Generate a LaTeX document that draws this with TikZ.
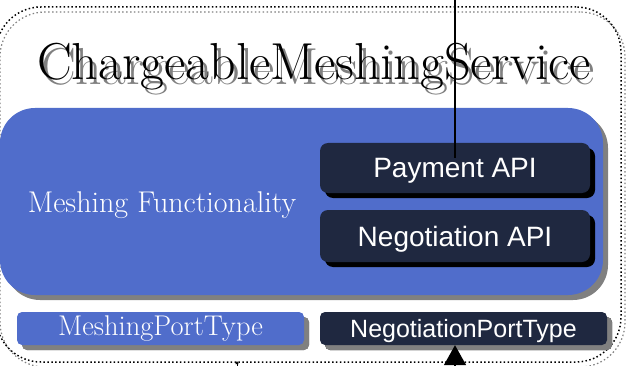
\documentclass[tikz,border=0pt]{standalone}
\usepackage{fontspec}
\newfontfamily\apifont{Liberation Sans}
\usetikzlibrary{arrows.meta,shadows}
\definecolor{meshblue}{RGB}{80,109,203}
\definecolor{apinavy}{RGB}{31,40,64}
\definecolor{shadowgray}{RGB}{128,128,128}
\tikzset{
  svcline/.style={draw, line width=1.5pt, dash pattern=on 1.5pt off 2.4pt, rounded corners=45pt, inner sep=0pt},
  bluebox/.style={fill=meshblue, rounded corners=#1, inner sep=0pt, text=white,
    drop shadow={shadow xshift=5pt, shadow yshift=-5pt, fill=shadowgray, opacity=1}},
  navybox/.style={fill=apinavy, rounded corners=#1, inner sep=0pt, text=white, font=\apifont\fontsize{28}{30}\selectfont,
    text height=20pt, text depth=0pt, drop shadow={shadow xshift=5pt, shadow yshift=-5pt, fill=black, opacity=1}},
  portshadow/.style={drop shadow={shadow xshift=5pt, shadow yshift=-5pt, fill=shadowgray, opacity=1}},
  titlefont/.style={font=\fontsize{52}{56}\selectfont, inner sep=0pt}
}
\begin{document}
\begin{tikzpicture}[x=1pt,y=-1pt]
\useasboundingbox (0,0) rectangle (631,366);
\node[svcline, draw=shadowgray, line width=1.2pt, minimum width=625pt, minimum height=355pt] (svcshadow) at (312.5,189.5) {};
\node[svcline, minimum width=625pt, minimum height=355pt] (svc) at (308.5,184.5) {};
\node[titlefont, text=shadowgray, anchor=base] (titleshadow) at (318,85) {ChargeableMeshingService};
\node[titlefont, anchor=base] (title) at (314,80) {ChargeableMeshingService};
\node[bluebox=35pt, minimum width=603pt, minimum height=187pt] (mesh) at (301.5,201.5) {};
\node[text=white, font=\fontsize{30}{32}\selectfont, anchor=base] (meshlbl) at (162,212) {Meshing Functionality};
\node[navybox=8pt, minimum width=270pt, minimum height=50pt] (pay) at (455,168) {Payment API};
\node[navybox=8pt, minimum width=270pt, minimum height=52pt] (nego) at (455,236) {Negotiation API};
\node[bluebox=5pt, portshadow, minimum width=287pt, minimum height=33pt, font=\fontsize{28.5}{30}\selectfont] (mpt) at (160.5,328.5) {MeshingPortType};
\node[navybox=5pt, portshadow, minimum width=287pt, minimum height=33pt, text height=17pt, font=\apifont\fontsize{25}{27}\selectfont] (npt) at (463.5,328.5) {NegotiationPortType};
\coordinate (paytop) at (455,-10);
\coordinate (payin) at (455,158);
\coordinate (nptbelow) at (455,390);
\coordinate (svcbelow) at (237,375);
\coordinate (svcin) at (237,361);
\draw[line width=1.6pt] (paytop) -- (payin);
\draw[-{Triangle[width=22pt,length=20pt]}, line width=1.6pt] (nptbelow) -- (npt.south -| payin);
\draw[-{Triangle[width=3pt,length=3pt]}, line width=0.8pt] (svcbelow) -- (svcin);
\end{tikzpicture}
\end{document}
